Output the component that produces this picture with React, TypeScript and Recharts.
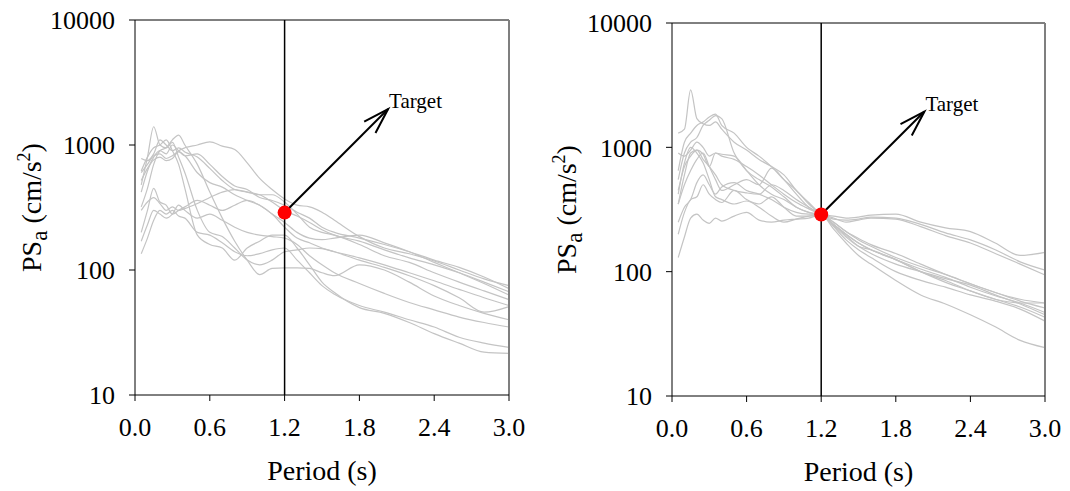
import {
  Label,
  Line,
  LineChart,
  ReferenceDot,
  ReferenceLine,
  XAxis,
  YAxis,
} from "recharts";

// Periods (s) at which every record's spectrum is sampled.
const PERIODS = [
  0.05, 0.1, 0.15, 0.2, 0.25, 0.3, 0.35, 0.4, 0.5, 0.6, 0.7, 0.8, 0.9, 1.0,
  1.1, 1.2, 1.3, 1.4, 1.5, 1.6, 1.8, 2.0, 2.2, 2.4, 2.6, 2.8, 3.0,
];

const X_TICKS = [0, 0.6, 1.2, 1.8, 2.4, 3.0];
const Y_TICKS = [10, 100, 1000, 10000];

// Target spectral ordinate at the conditioning period.
const TARGET_PERIOD = 1.2;
const TARGET_PSA = 288;
// Where the "Target" pointer ends.
const POINTER_TIP = { x: 2.03, y: 1940 };

// Unscaled records, PSa in cm/s^2
const U1 = [600, 700, 820, 850, 780, 820, 900, 950, 1000, 1060, 980, 920, 720, 540, 440, 370, 330, 320, 290, 250, 185, 150, 135, 118, 100, 85, 75];
const U2 = [480, 800, 1400, 1000, 950, 1050, 800, 600, 300, 200, 185, 150, 120, 110, 120, 140, 145, 150, 148, 140, 125, 110, 95, 82, 70, 60, 52];
const U3 = [320, 450, 700, 900, 950, 1100, 1200, 1000, 700, 420, 260, 170, 120, 92, 103, 104, 104, 103, 95, 90, 110, 100, 80, 62, 52, 45, 40];
const U4 = [780, 750, 850, 1100, 1000, 900, 950, 880, 800, 650, 520, 440, 420, 400, 350, 300, 270, 240, 210, 190, 170, 145, 125, 110, 95, 80, 67];
const U5 = [420, 620, 800, 900, 850, 1000, 900, 820, 850, 700, 560, 470, 440, 380, 360, 330, 290, 260, 220, 200, 180, 160, 140, 120, 105, 88, 71];
const U6 = [520, 650, 760, 800, 750, 780, 880, 820, 600, 500, 460, 400, 360, 330, 280, 240, 200, 180, 175, 180, 190, 165, 140, 115, 95, 78, 63];
const U7 = [300, 350, 380, 340, 300, 320, 300, 310, 340, 380, 420, 440, 420, 400, 400, 350, 280, 220, 200, 190, 160, 130, 115, 95, 80, 68, 58];
const U8 = [200, 300, 450, 350, 330, 280, 300, 320, 360, 330, 300, 330, 360, 330, 280, 220, 180, 165, 150, 140, 120, 105, 90, 75, 60, 46, 51];
const U9 = [170, 230, 300, 280, 260, 280, 330, 300, 260, 280, 250, 220, 200, 190, 185, 180, 160, 130, 110, 95, 78, 65, 55, 48, 42, 38, 35];
const U10 = [135, 180, 250, 300, 280, 300, 270, 260, 200, 190, 165, 140, 130, 135, 145, 150, 120, 95, 75, 64, 52, 46, 40, 35, 29, 26, 24];
const U11 = [620, 800, 950, 1000, 1100, 900, 700, 450, 190, 160, 150, 120, 150, 170, 190, 190, 150, 110, 80, 66, 50, 45, 38, 31, 26, 22, 21.5];

// Records scaled to the target at 1.2 s
const S1 = [1300, 1400, 2900, 1700, 1550, 1500, 1600, 1400, 1100, 950, 800, 700, 600, 450, 360, 288, 250, 210, 180, 160, 130, 110, 95, 80, 68, 60, 56];
const S2 = [650, 1100, 1300, 1500, 1600, 1750, 1850, 1500, 1300, 1000, 850, 700, 550, 450, 350, 288, 240, 200, 170, 150, 125, 105, 90, 75, 64, 56, 47];
const S3 = [550, 900, 1100, 1200, 1500, 1650, 1800, 1700, 900, 650, 550, 480, 400, 330, 300, 288, 280, 270, 275, 285, 290, 250, 225, 210, 170, 135, 143];
const S4 = [900, 850, 950, 1100, 1000, 850, 900, 850, 800, 700, 600, 500, 420, 360, 320, 288, 265, 260, 265, 275, 270, 240, 205, 180, 150, 120, 103];
const S5 = [350, 600, 900, 950, 880, 700, 900, 880, 850, 650, 500, 420, 380, 330, 300, 288, 270, 250, 260, 270, 265, 230, 195, 170, 140, 115, 94];
const S6 = [450, 700, 850, 950, 800, 700, 600, 500, 450, 430, 420, 500, 450, 380, 330, 288, 240, 195, 160, 140, 115, 100, 88, 78, 65, 55, 45];
const S7 = [350, 500, 650, 800, 900, 700, 550, 450, 500, 550, 500, 680, 550, 420, 330, 288, 235, 190, 160, 150, 125, 100, 82, 70, 60, 52, 43];
const S8 = [200, 300, 380, 400, 500, 420, 380, 360, 450, 380, 350, 400, 330, 280, 280, 288, 220, 170, 135, 115, 85, 65, 55, 45, 36, 28, 24.5];
const S9 = [130, 190, 270, 290, 260, 245, 270, 255, 280, 300, 260, 250, 260, 265, 270, 288, 250, 210, 185, 165, 140, 115, 95, 80, 68, 58, 51];
const S10 = [420, 750, 1000, 900, 750, 550, 400, 380, 350, 370, 330, 280, 250, 265, 280, 288, 240, 200, 170, 150, 125, 100, 85, 70, 60, 56, 56];
const S11 = [250, 330, 380, 520, 600, 500, 420, 480, 520, 450, 420, 380, 330, 300, 290, 288, 230, 180, 150, 130, 100, 85, 75, 65, 58, 50, 40];

const UNSCALED = [U1, U2, U3, U4, U5, U6, U7, U8, U9, U10, U11];
const SCALED = [S1, S2, S3, S4, S5, S6, S7, S8, S9, S10, S11];

const FONT = '"Liberation Serif", "Times New Roman", Times, serif';
const CURVE = "#c4c4c4";

function buildRows(records: number[][]) {
  return PERIODS.map((period, i) => {
    const row: Record<string, number> = { period };
    records.forEach((r, k) => {
      row[`r${k}`] = r[i];
    });
    return row;
  });
}

// Line from the target dot with an open arrow head and the caption.
function TargetPointer(props: any) {
  const { x1, y1, x2, y2 } = props;
  const back = Math.atan2(y1 - y2, x1 - x2);
  const len = 27;
  const spread = 0.3;
  const h1 = `${x2 + len * Math.cos(back + spread)},${y2 + len * Math.sin(back + spread)}`;
  const h2 = `${x2 + len * Math.cos(back - spread)},${y2 + len * Math.sin(back - spread)}`;
  return (
    <g>
      <line x1={x1} y1={y1} x2={x2} y2={y2} stroke="#000" strokeWidth={2} />
      <polyline
        points={`${h1} ${x2},${y2} ${h2}`}
        fill="none"
        stroke="#000"
        strokeWidth={2}
      />
      <text x={x2 + 1} y={y2 - 1} fontSize={21} fontFamily={FONT} fill="#000">
        Target
      </text>
    </g>
  );
}

function PsaTitle({ viewBox }: any) {
  const x = 41;
  const cy = viewBox.y + viewBox.height / 2;
  return (
    <text
      x={x}
      y={cy}
      transform={`rotate(-90, ${x}, ${cy})`}
      textAnchor="middle"
      fontSize={28}
      fontFamily={FONT}
      fill="#000"
    >
      PS
      <tspan fontSize={23} dy={6}>
        a
      </tspan>
      <tspan dy={-6}> (cm/s</tspan>
      <tspan fontSize={18} dy={-11}>
        2
      </tspan>
      <tspan dy={11}>)</tspan>
    </text>
  );
}

function PeriodTitle({ viewBox }: any) {
  return (
    <text
      x={viewBox.x + viewBox.width / 2}
      y={viewBox.y + 85}
      textAnchor="middle"
      fontSize={28}
      fontFamily={FONT}
      fill="#000"
    >
      Period (s)
    </text>
  );
}

const tick = { fontSize: 26, fill: "#000", fontFamily: FONT };

function SpectraPanel({
  records,
  top,
  left,
  right,
  xHeight,
}: {
  records: number[][];
  top: number;
  left: number;
  right: number;
  xHeight: number;
}) {
  const rows = buildRows(records);
  return (
    <LineChart
      width={535}
      height={491}
      data={rows}
      margin={{ top, right, bottom: 0, left: 0 }}
    >
      <XAxis
        dataKey="period"
        type="number"
        domain={[0, 3]}
        ticks={X_TICKS}
        interval={0}
        tickFormatter={(v: number) => v.toFixed(1)}
        height={xHeight}
        stroke="#000"
        tickSize={6}
        tickMargin={17}
        tick={tick}
      >
        <Label content={PeriodTitle} />
      </XAxis>
      <YAxis
        scale="log"
        domain={[10, 10000]}
        ticks={Y_TICKS}
        interval={0}
        allowDataOverflow
        width={left}
        stroke="#000"
        tickSize={6}
        tickMargin={14}
        tick={tick}
      >
        <Label content={PsaTitle} />
      </YAxis>
      {records.map((_, k) => (
        <Line
          key={k}
          dataKey={`r${k}`}
          type="monotone"
          stroke={CURVE}
          strokeWidth={1.2}
          dot={false}
          activeDot={false}
          isAnimationActive={false}
        />
      ))}
      <ReferenceLine y={10000} stroke="#000" strokeWidth={1} />
      <ReferenceLine x={3} stroke="#7f7f7f" strokeWidth={2} />
      <ReferenceLine x={TARGET_PERIOD} stroke="#000" strokeWidth={1.5} />
      <ReferenceDot
        x={TARGET_PERIOD}
        y={TARGET_PSA}
        r={7}
        fill="#ff0000"
        stroke="none"
      />
      <ReferenceLine
        segment={[
          { x: TARGET_PERIOD, y: TARGET_PSA },
          { x: POINTER_TIP.x, y: POINTER_TIP.y },
        ]}
        shape={TargetPointer}
        ifOverflow="visible"
      />
    </LineChart>
  );
}

export default function App() {
  return (
    <div
      style={{
        position: "absolute",
        left: 0,
        top: 0,
        width: 1070,
        height: 491,
        display: "flex",
        background: "#fff",
      }}
    >
      <SpectraPanel records={UNSCALED} top={20} left={135} right={26} xHeight={96} />
      <SpectraPanel records={SCALED} top={23} left={137} right={25} xHeight={95} />
    </div>
  );
}
